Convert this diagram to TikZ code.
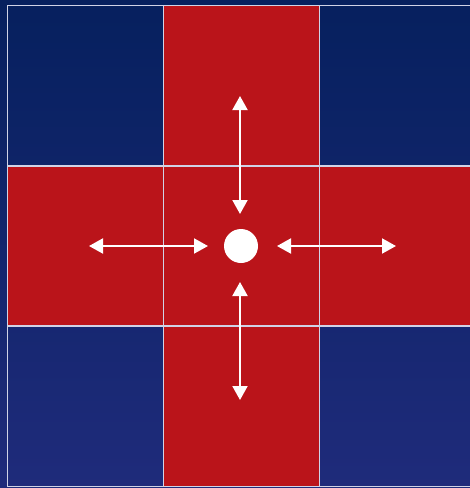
\documentclass[tikz,border=0pt]{standalone}
\usetikzlibrary{arrows.meta}
\definecolor{navytop}{HTML}{06205E}
\definecolor{navybot}{HTML}{1F2B7B}
\definecolor{cellred}{HTML}{BA141A}
\definecolor{gridline}{HTML}{D0D3E6}
\tikzset{
  redcell/.style={fill=cellred,draw=none},
  gridln/.style={draw=gridline,line width=1.8pt},
  dblarrow/.style={draw=white,line width=2pt,{Triangle[length=14pt,width=15pt]}-{Triangle[length=14pt,width=15pt]}},
  dot/.style={circle,fill=white,minimum size=34pt,inner sep=0pt}
}
\begin{document}
\begin{tikzpicture}[x=1pt,y=-1pt]
\useasboundingbox (0,0) rectangle (470,488);
\shade[top color=navytop,bottom color=navybot] (0,0) rectangle (470,488);
% red cross
\fill[cellred] (163.5,5.5) rectangle (319.5,486.5);
\fill[cellred] (7.5,166) rectangle (476,326);
% grid
\draw[gridln] (476,5.5) -- (7.5,5.5) -- (7.5,486.5) -- (476,486.5);
\draw[gridln] (163.5,5.5) -- (163.5,486.5);
\draw[gridln] (319.5,5.5) -- (319.5,486.5);
\draw[gridln] (7.5,166) -- (476,166);
\draw[gridln] (7.5,326) -- (476,326);
% center dot
\node[dot] (c) at (241,246) {};
\coordinate (u1) at (240,96);
\coordinate (u2) at (240,214);
\coordinate (d1) at (240,282);
\coordinate (d2) at (240,400);
\coordinate (l1) at (89,246);
\coordinate (l2) at (208,246);
\coordinate (r1) at (277,246);
\coordinate (r2) at (396,246);
\draw[dblarrow] (u1) -- (u2);
\draw[dblarrow] (d1) -- (d2);
\draw[dblarrow] (l1) -- (l2);
\draw[dblarrow] (r1) -- (r2);
\end{tikzpicture}
\end{document}
